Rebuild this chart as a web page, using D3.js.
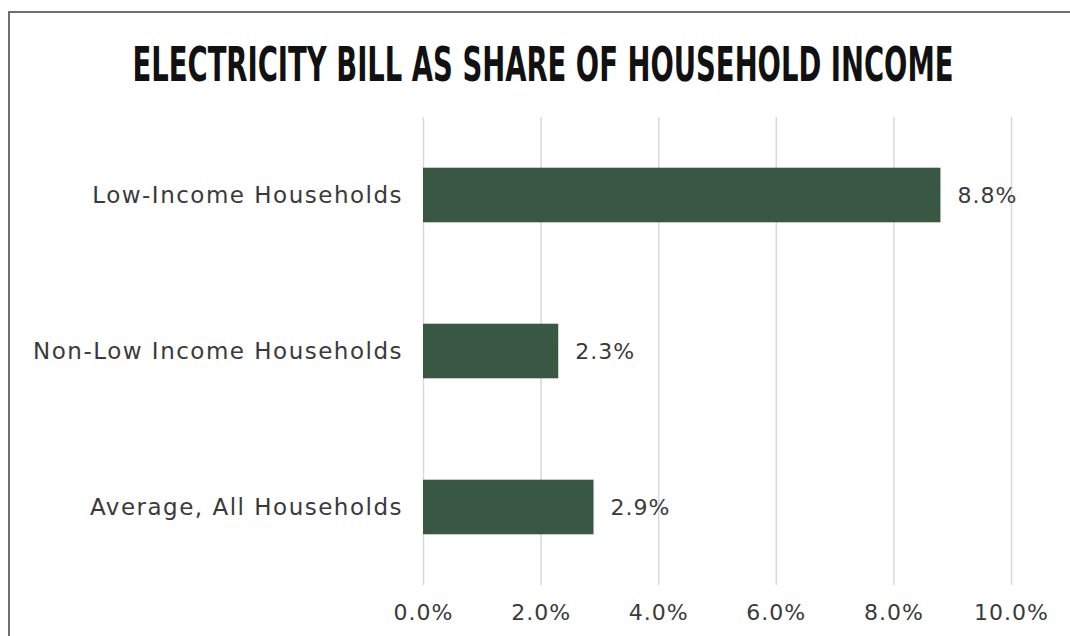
<!DOCTYPE html>
<html lang="en">
<head>
<meta charset="utf-8">
<title>Electricity bill as share of household income</title>
<style>
  body { margin: 0; background: #fff; }
  .title { font-family: "DejaVu Sans Condensed", "DejaVu Sans", sans-serif; font-weight: bold; fill: #111; }
  .cat { font-family: "DejaVu Sans", sans-serif; font-size: 23px; letter-spacing: 1.5px; fill: #3a3a3a; }
  .val { font-family: "DejaVu Sans", sans-serif; font-size: 22px; letter-spacing: 1px; fill: #3a3a3a; }
  .axis text { font-family: "DejaVu Sans", sans-serif; font-size: 22px; letter-spacing: 1px; fill: #3a3a3a; }
  .axis line { stroke: #d9d9d9; stroke-width: 1.5; }
  .bar { fill: #385843; }
</style>
</head>
<body>
<div id="chart"></div>
<script src="https://cdn.jsdelivr.net/npm/d3@7"></script>
<script>
  var categories = ["Low-Income Households", "Non-Low Income Households", "Average, All Households"];
  var shares = [8.8, 2.3, 2.9];
  var tickValues = [0, 2, 4, 6, 8, 10];

  var W = 1070, H = 636;
  var svg = d3.select("#chart").append("svg")
    .attr("width", W)
    .attr("height", H);

  // frame round the chart (bottom edge is cropped off in the original)
  svg.append("path")
    .attr("d", "M9,640 V12 H1075")
    .attr("fill", "none")
    .attr("stroke", "#6f6f6f")
    .attr("stroke-width", 2);

  svg.append("text")
    .attr("class", "title")
    .attr("x", 543)
    .attr("y", 81)
    .attr("text-anchor", "middle")
    .attr("font-size", 48)
    .attr("textLength", 821)
    .attr("lengthAdjust", "spacingAndGlyphs")
    .text("ELECTRICITY BILL AS SHARE OF HOUSEHOLD INCOME");

  var plotTop = 117, plotBottom = 585;
  var x = d3.scaleLinear().domain([0, 10]).range([423, 1011]);
  var y = d3.scaleBand().domain(categories).range([plotTop, plotBottom])
    .paddingInner(0.65).paddingOuter(0.325);

  var axis = svg.append("g")
    .attr("class", "axis")
    .attr("transform", "translate(0," + plotBottom + ")")
    .call(d3.axisBottom(x)
      .tickValues(tickValues)
      .tickSize(-(plotBottom - plotTop))
      .tickPadding(19)
      .tickFormat(function(d) { return d.toFixed(1) + "%"; }));
  axis.select(".domain").remove();

  var rows = categories.map(function(c, i) { return { cat: c, v: shares[i] }; });

  svg.selectAll(".bar")
    .data(rows)
    .enter()
    .append("rect")
    .attr("class", "bar")
    .attr("x", x(0))
    .attr("y", function(d) { return y(d.cat); })
    .attr("width", function(d) { return x(d.v) - x(0); })
    .attr("height", y.bandwidth());

  svg.selectAll(".val")
    .data(rows)
    .enter()
    .append("text")
    .attr("class", "val")
    .attr("x", function(d) { return x(d.v) + 17; })
    .attr("y", function(d) { return y(d.cat) + y.bandwidth() / 2; })
    .attr("dy", "0.35em")
    .text(function(d) { return d.v.toFixed(1) + "%"; });

  svg.selectAll(".cat")
    .data(rows)
    .enter()
    .append("text")
    .attr("class", "cat")
    .attr("x", 403)
    .attr("y", function(d) { return y(d.cat) + y.bandwidth() / 2; })
    .attr("dy", "0.35em")
    .attr("text-anchor", "end")
    .text(function(d) { return d.cat; });
</script>
</body>
</html>
